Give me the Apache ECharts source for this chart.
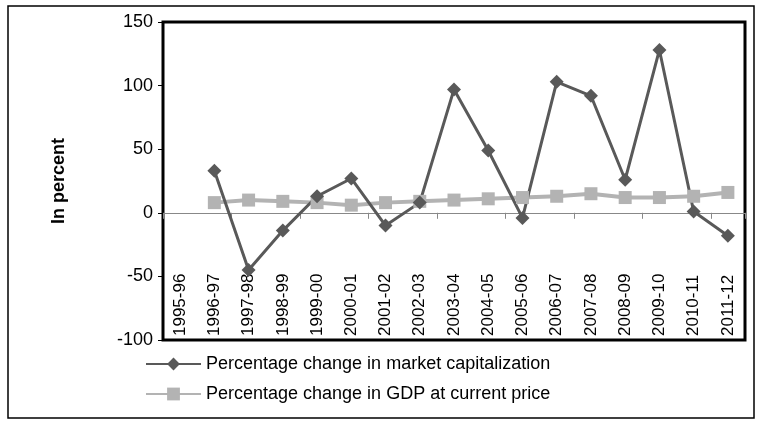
<!DOCTYPE html><html><head><meta charset="utf-8"><script src="https://cdn.jsdelivr.net/npm/echarts@6/dist/echarts.min.js"></script></head><body style="margin:0"><div id="c" style="width:761px;height:425px"></div><script>
const categories=['1995-96','1996-97','1997-98','1998-99','1999-00','2000-01','2001-02','2002-03','2003-04','2004-05','2005-06','2006-07','2007-08','2008-09','2009-10','2010-11','2011-12'];
const marketCap=[null,33,-45,-14,13,27,-10,8,97,49,-4,103,92,26,128,1,-18];
const gdp=[null,8,10,9,8,6,8,9,10,11,12,13,15,12,12,13,16];
const yTicks=[-100,-50,0,50,100,150];
const ch=echarts.init(document.getElementById('c'));
const F='Liberation Sans';
ch.setOption({
animation:false,
graphic:[{type:'rect',shape:{x:8,y:6,width:746,height:412},style:{fill:'none',stroke:'#000',lineWidth:1.5}}],
grid:{left:163,right:16,top:22,bottom:85,show:true,borderColor:'#000',borderWidth:3},
xAxis:[{type:'category',data:categories,boundaryGap:true,axisLine:{onZero:true,lineStyle:{color:'#888'}},axisTick:{show:true,inside:false,length:6,lineStyle:{color:'#888'}},axisLabel:{show:false}},
{type:'category',data:categories,position:'bottom',boundaryGap:true,axisLine:{show:false},axisTick:{show:false},axisLabel:{inside:true,rotate:90,fontFamily:F,fontSize:17,color:'#000',margin:4}}],
yAxis:{type:'value',min:-100,max:150,interval:50,splitLine:{show:false},axisLine:{show:true,lineStyle:{color:'#000'}},axisTick:{show:true,lineStyle:{color:'#000'}},axisLabel:{fontFamily:F,fontSize:18,color:'#000',margin:10,formatter:v=>yTicks.includes(v)?String(v):''},
name:'In percent',nameLocation:'middle',nameGap:95,nameTextStyle:{fontFamily:F,fontSize:18,fontWeight:'bold',color:'#000'}},
legend:{orient:'vertical',left:140,top:350,itemGap:12,itemWidth:55,itemHeight:16,textStyle:{fontFamily:F,fontSize:18,color:'#000'},data:['Percentage change in market capitalization','Percentage change in GDP at current price']},
series:[
{name:'Percentage change in GDP at current price',type:'line',data:gdp,symbol:'rect',symbolSize:13,lineStyle:{color:'#b3b3b3',width:4},itemStyle:{color:'#b3b3b3'}},
{name:'Percentage change in market capitalization',type:'line',data:marketCap,symbol:'diamond',symbolSize:14,lineStyle:{color:'#595959',width:3},itemStyle:{color:'#595959'}}
]});
</script></body></html>
